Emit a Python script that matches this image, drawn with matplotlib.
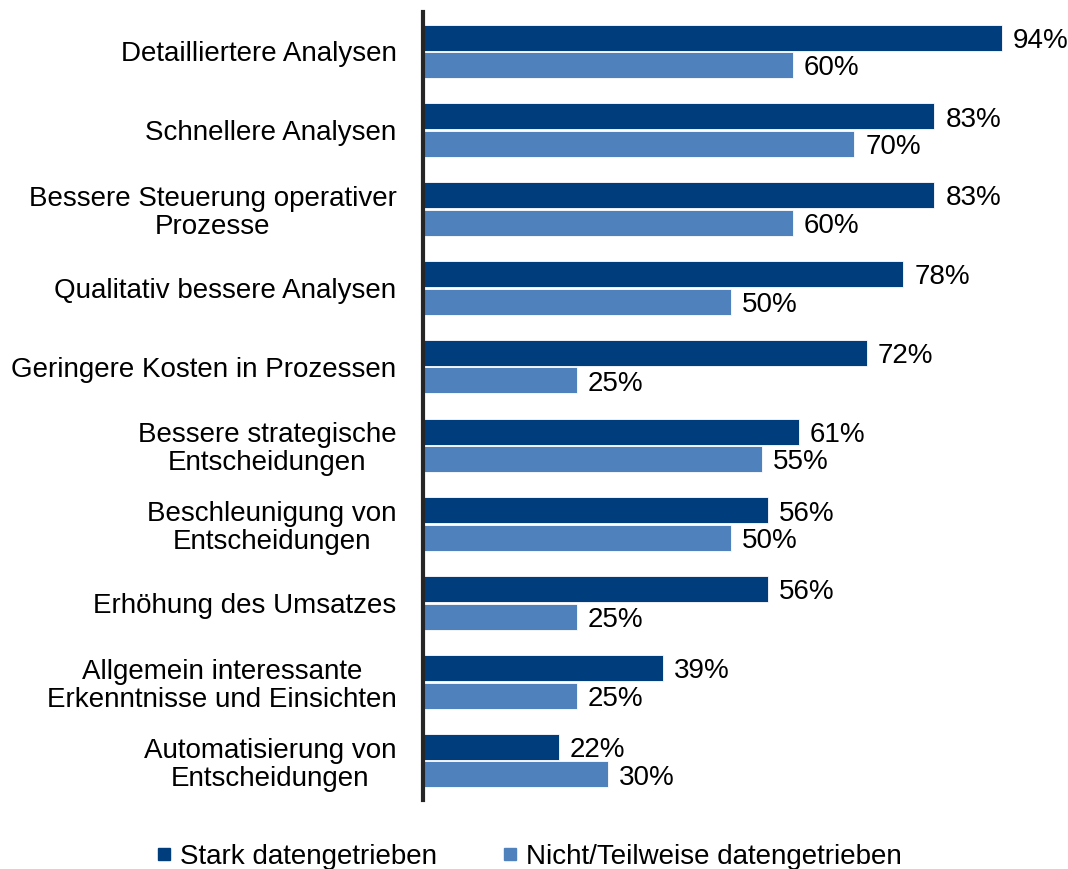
import numpy as np
import matplotlib.pyplot as plt
from matplotlib.lines import Line2D

plt.rcParams['font.family'] = ['Liberation Sans', 'DejaVu Sans']

# categories, top to bottom
categories = [
    'Detailliertere Analysen',
    'Schnellere Analysen',
    'Bessere Steuerung operativer\nProzesse',
    'Qualitativ bessere Analysen',
    'Geringere Kosten in Prozessen',
    'Bessere strategische\nEntscheidungen',
    'Beschleunigung von\nEntscheidungen',
    'Erhöhung des Umsatzes',
    'Allgemein interessante\nErkenntnisse und Einsichten',
    'Automatisierung von\nEntscheidungen',
]
stark = [94, 83, 83, 78, 72, 61, 56, 56, 39, 22]
nicht = [60, 70, 60, 50, 25, 55, 50, 25, 25, 30]
series_names = ['Stark datengetrieben', 'Nicht/Teilweise datengetrieben']

dark = '#003D7C'
light = '#4F81BD'
fs = 20

fig = plt.figure(figsize=(10.68, 8.69), dpi=100)
ax = fig.add_axes([423 / 1068, 1 - 800 / 869, 616 / 1068, 788 / 869])

y = np.arange(len(categories))
h = 0.33
off = 0.175
ax.barh(y - off, stark, height=h, color=dark, edgecolor='white', linewidth=0.6)
ax.barh(y + off, nicht, height=h, color=light, edgecolor='white', linewidth=0.6)

for yi, v in zip(y, stark):
    ax.text(v + 1.8, yi - off + 0.04, f'{v}%', va='center', ha='left', fontsize=fs)
for yi, v in zip(y, nicht):
    ax.text(v + 1.8, yi + off + 0.04, f'{v}%', va='center', ha='left', fontsize=fs)

ax.set_xlim(0, 100)
ax.set_ylim(len(categories) - 0.5, -0.5)
ax.set_yticks(y)
ax.set_yticklabels(categories, fontsize=fs, multialignment='center', linespacing=1.1)
ax.tick_params(axis='y', length=0, pad=19)
ax.set_xticks([])
for s in ['top', 'right', 'bottom']:
    ax.spines[s].set_visible(False)
ax.spines['left'].set_linewidth(3)
ax.spines['left'].set_color('#262626')

handles = [Line2D([], [], marker='s', linestyle='none', markersize=9, color=c)
           for c in (dark, light)]
fig.legend(handles, series_names, loc='center', bbox_to_anchor=(0.495, 1 - 857 / 869),
           ncol=2, frameon=False, fontsize=fs, handlelength=0.6, handletextpad=0.3,
           columnspacing=2.3, borderaxespad=0)

fig.savefig('out.png', dpi=100)
